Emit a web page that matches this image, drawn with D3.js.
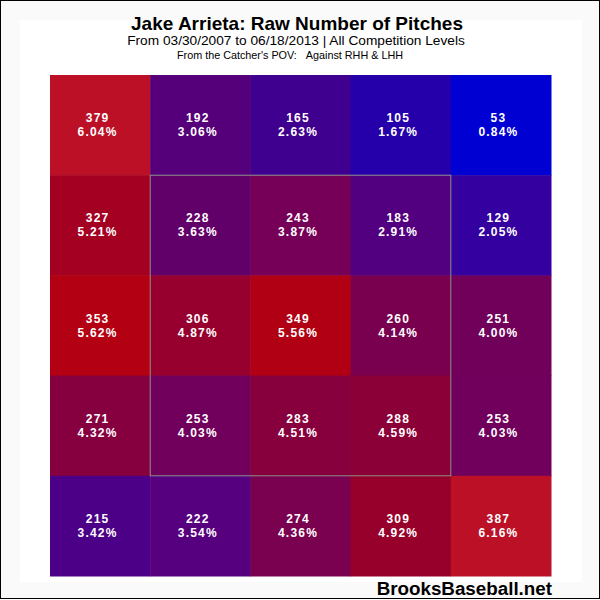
<!DOCTYPE html>
<html>
<head>
<meta charset="utf-8">
<script src="https://cdn.jsdelivr.net/npm/d3@7"></script>
<style>
  html, body { margin: 0; padding: 0; background: #fff; }
  svg { display: block; }
  text { font-family: "Liberation Sans", Arial, sans-serif; }
</style>
</head>
<body>
<div id="container"></div>
<script>
// zone columns / rows, from the catcher's view
const columns = [0, 1, 2, 3, 4];
const rows = [0, 1, 2, 3, 4];

// pitch counts, row by row from the top
const counts = [
  379, 192, 165, 105, 53,
  327, 228, 243, 183, 129,
  353, 306, 349, 260, 251,
  271, 253, 283, 288, 253,
  215, 222, 274, 309, 387
];
const percents = [
  '6.04%', '3.06%', '2.63%', '1.67%', '0.84%',
  '5.21%', '3.63%', '3.87%', '2.91%', '2.05%',
  '5.62%', '4.87%', '5.56%', '4.14%', '4.00%',
  '4.32%', '4.03%', '4.51%', '4.59%', '4.03%',
  '3.42%', '3.54%', '4.36%', '4.92%', '6.16%'
];

// colour ramp stops
const rampCounts = [53, 105, 129, 165, 183, 192, 215, 222, 228, 243, 253, 260, 271, 274, 283, 288, 327, 353, 379, 387];
const rampColors = ['#0000d2', '#2500aa', '#3500a0', '#40008f', '#520080', '#55007a', '#4c0088', '#560080', '#62006a', '#760058', '#70005c', '#78004f', '#86003f', '#7a0050', '#87003d', '#8c0038', '#a30022', '#b30012', '#bb1026', '#bb1026'];

const title = 'Jake Arrieta: Raw Number of Pitches';
const subtitle = 'From 03/30/2007 to 06/18/2013 | All Competition Levels';
const note = "From the Catcher's POV:\u00a0\u00a0\u00a0Against RHH & LHH";
const credit = 'BrooksBaseball.net';

const width = 600, height = 600;
const margin = { top: 75, right: 49, bottom: 24, left: 50 };
const w = width - margin.left - margin.right;
const h = height - margin.top - margin.bottom;

const svg = d3.select('#container').append('svg')
  .attr('width', width)
  .attr('height', height);

// outer frame, the off-white band is what's left of the gif dither
svg.append('rect')
  .attr('x', 0.5).attr('y', 0.5)
  .attr('width', width - 1).attr('height', height - 2)
  .attr('fill', '#fbfafa')
  .attr('stroke', '#000');
svg.append('rect')
  .attr('x', 20).attr('y', 20)
  .attr('width', width - 38).attr('height', height - 38)
  .attr('fill', '#fff');

const g = svg.append('g')
  .attr('transform', `translate(${margin.left},${margin.top})`);

const x = d3.scaleBand().domain(columns).range([0, w]);
const y = d3.scaleBand().domain(rows).range([0, h]);
const color = d3.scaleLinear().domain(rampCounts).range(rampColors);

const cells = counts.map((c, i) => ({
  col: columns[i % 5],
  row: rows[Math.floor(i / 5)],
  count: c,
  pct: percents[i]
}));

g.selectAll('rect.cell')
  .data(cells)
  .enter()
  .append('rect')
    .attr('class', 'cell')
    .attr('x', d => x(d.col))
    .attr('y', d => y(d.row))
    .attr('width', x.bandwidth() + 0.5)
    .attr('height', y.bandwidth() + 0.5)
    .attr('fill', d => color(d.count));

// strike zone covers the middle three columns and rows
g.append('rect')
  .attr('x', x(1))
  .attr('y', y(1))
  .attr('width', x(4) - x(1))
  .attr('height', y(4) - y(1))
  .attr('fill', 'none')
  .attr('stroke', '#8c9088')
  .attr('stroke-width', 1);

const labels = g.selectAll('g.label')
  .data(cells)
  .enter()
  .append('g')
    .attr('class', 'label')
    .attr('transform', d => `translate(${x(d.col) + x.bandwidth() / 2 - 2.5},${y(d.row) + y.bandwidth() / 2})`)
    .attr('text-anchor', 'middle')
    .attr('fill', '#fff')
    .attr('font-size', 12)
    .attr('font-weight', 'bold')
    .attr('letter-spacing', 1.2);

labels.append('text').attr('y', -3).text(d => d.count);
labels.append('text').attr('y', 11).text(d => d.pct);

const heading = svg.append('g').attr('text-anchor', 'middle').attr('fill', '#000');
heading.append('text').attr('x', 297).attr('y', 30)
  .attr('font-size', 19).attr('font-weight', 'bold').text(title);
heading.append('text').attr('x', 296).attr('y', 45)
  .attr('font-size', 13.7).text(subtitle);
heading.append('text').attr('x', 290).attr('y', 59)
  .attr('font-size', 10.8).text(note);

svg.append('text')
  .attr('x', 552).attr('y', 595)
  .attr('text-anchor', 'end')
  .attr('font-size', 18.8)
  .attr('font-weight', 'bold')
  .attr('fill', '#000')
  .text(credit);
</script>
</body>
</html>
